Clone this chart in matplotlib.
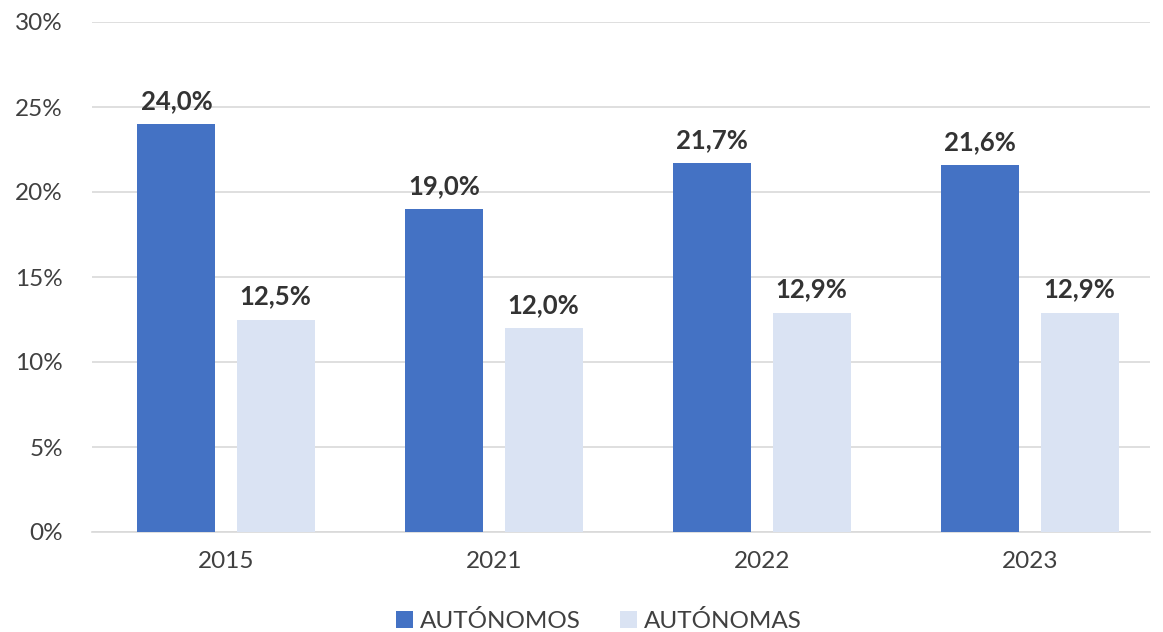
import matplotlib
matplotlib.use("Agg")
import matplotlib.pyplot as plt
import numpy as np

years = ["2015", "2021", "2022", "2023"]
autonomos = [24.0, 19.0, 21.7, 21.6]
autonomas = [12.5, 12.0, 12.9, 12.9]
series_names = ["AUTÓNOMOS", "AUTÓNOMAS"]
y_ticks = [0, 5, 10, 15, 20, 25, 30]

dark = "#4472C4"
light = "#DAE3F3"
text_col = "#404040"

plt.rcParams["font.family"] = ["Lato", "DejaVu Sans"]

fig = plt.figure(figsize=(11.63, 6.32), dpi=100)
ax = fig.add_axes([92 / 1163, 1 - 532 / 632, (1150 - 92) / 1163, (532 - 22) / 632])

x = np.arange(len(years))
w = 0.291
off = 0.185
b1 = ax.bar(x - off, autonomos, w, color=dark, zorder=3, label=series_names[0])
b2 = ax.bar(x + off, autonomas, w, color=light, zorder=3, label=series_names[1])

for bars, vals in ((b1, autonomos), (b2, autonomas)):
    for rect, v in zip(bars, vals):
        ax.annotate(f"{v:.1f}%".replace(".", ","),
                    (rect.get_x() + rect.get_width() / 2, v),
                    xytext=(0, 8), textcoords="offset points",
                    ha="center", va="bottom", fontsize=18.5,
                    fontweight="bold", color="#333333")

ax.set_xlim(-0.5, 3.448)
ax.set_ylim(0, 30)
ax.set_yticks(y_ticks)
ax.set_yticklabels([f"{t}%" for t in y_ticks])
ax.set_xticks(x)
ax.set_xticklabels(years)
ax.tick_params(axis="both", length=0, labelsize=17.5, colors=text_col)
ax.tick_params(axis="y", pad=21)
ax.tick_params(axis="x", pad=14)
ax.yaxis.grid(True, color="#D9D9D9", linewidth=1.2, zorder=0)
for s in ["left", "right", "top"]:
    ax.spines[s].set_visible(False)
ax.spines["bottom"].set_color("#D9D9D9")
ax.spines["bottom"].set_linewidth(1.2)

fig.legend(handles=[b1, b2], loc="center", bbox_to_anchor=(0.515, 1 - 621 / 632),
           ncol=2, frameon=False, fontsize=17.5, labelcolor=text_col,
           handlelength=0.7, handleheight=0.7, handletextpad=0.3, columnspacing=1.6)

fig.savefig("out.png", dpi=100)
